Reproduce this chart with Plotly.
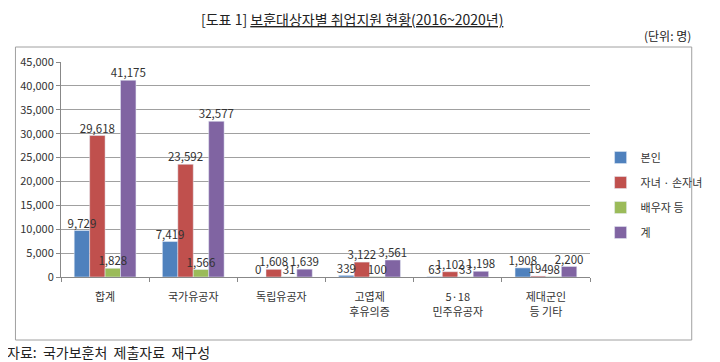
import plotly.graph_objects as go

categories = ["합계", "국가유공자", "독립유공자", "고엽제<br>후유의증", "5·18<br>민주유공자", "제대군인<br>등 기타"]
series_names = ["본인", "자녀 · 손자녀", "배우자 등", "계"]
self_vals = [9729, 7419, 0, 339, 63, 1908]
child_vals = [29618, 23592, 1608, 3122, 1102, 194]
spouse_vals = [1828, 1566, 31, 100, 33, 98]
total_vals = [41175, 32577, 1639, 3561, 1198, 2200]
colors = ["#4F81BD", "#C0504D", "#9BBB59", "#8064A2"]

FONT = "Noto Sans CJK KR"
# page body has an 8px default margin; figure is sized to fit the 720x362 window
W, H = 712, 354
L, R, T, B = 53, 113, 54, 85
PW, PH = W - L - R, H - T - B


def px(x):  # reference x pixel -> paper
    return (x - 8 - L) / PW


def py(y):  # reference y pixel -> paper
    return (H - B - (y - 8)) / PH


fig = go.Figure()
all_vals = [self_vals, child_vals, spouse_vals, total_vals]
for i, (name, vals, c) in enumerate(zip(series_names, all_vals, colors)):
    fig.add_trace(go.Bar(
        x=categories, y=vals, name=name, marker_color=c, offsetgroup=str(i),
        legendgroup=str(i),
    ))
for i, (name, vals) in enumerate(zip(series_names, all_vals)):
    fig.add_trace(go.Scatter(
        x=categories, y=vals, mode="text", offsetgroup=str(i), showlegend=False,
        text=[f"{v:,}" for v in vals], textposition="top center",
        textfont=dict(size=11.5, color="#333333", family=FONT), cliponaxis=False,
        hoverinfo="skip",
    ))

fig.update_layout(
    width=W, height=H,
    margin=dict(l=L, r=R, t=T, b=B),
    paper_bgcolor="white", plot_bgcolor="white",
    font=dict(family=FONT, size=11, color="#333333"),
    barmode="group", bargap=0.3, bargroupgap=0,
    scattermode="group", scattergap=0.3,
    showlegend=True,
    legend=dict(x=1.02, y=py(143), xanchor="left", yanchor="top",
                font=dict(size=11, color="#333333"), itemwidth=30,
                bgcolor="rgba(0,0,0,0)", tracegroupgap=6),
    xaxis=dict(showline=True, linecolor="#888888", ticks="outside", tickson="boundaries",
               ticklen=4, tickcolor="#888888", tickfont=dict(size=11),
               ticklabelstandoff=10),
    yaxis=dict(range=[0, 45000], dtick=5000, tickformat=",d", showgrid=True,
               gridcolor="#A0A0A0", gridwidth=1, showline=True, linecolor="#888888",
               ticks="outside", ticklen=4, tickcolor="#888888", tickfont=dict(size=11),
               zeroline=False),
    shapes=[dict(type="rect", xref="paper", yref="paper",
                 x0=px(14), x1=px(712), y0=py(340), y1=py(47),
                 line=dict(color="#A0A0A0", width=1), fillcolor="rgba(0,0,0,0)", layer="below")],
    annotations=[
        dict(text="[도표 1] <u>보훈대상자별 취업지원 현황(2016~2020년)</u>", xref="paper", yref="paper",
             x=px(361), y=py(7), xanchor="center", yanchor="top", showarrow=False,
             font=dict(size=14, color="#222222", family=FONT)),
        dict(text="(단위: 명)", xref="paper", yref="paper",
             x=px(713), y=py(35), xanchor="right", yanchor="middle", showarrow=False,
             font=dict(size=12, color="#222222", family=FONT)),
        dict(text="자료:  국가보훈처  제출자료  재구성", xref="paper", yref="paper",
             x=px(3), y=py(352), xanchor="left", yanchor="middle", showarrow=False,
             font=dict(size=14, color="#222222", family=FONT)),
    ],
)
fig.write_html("out.html")
